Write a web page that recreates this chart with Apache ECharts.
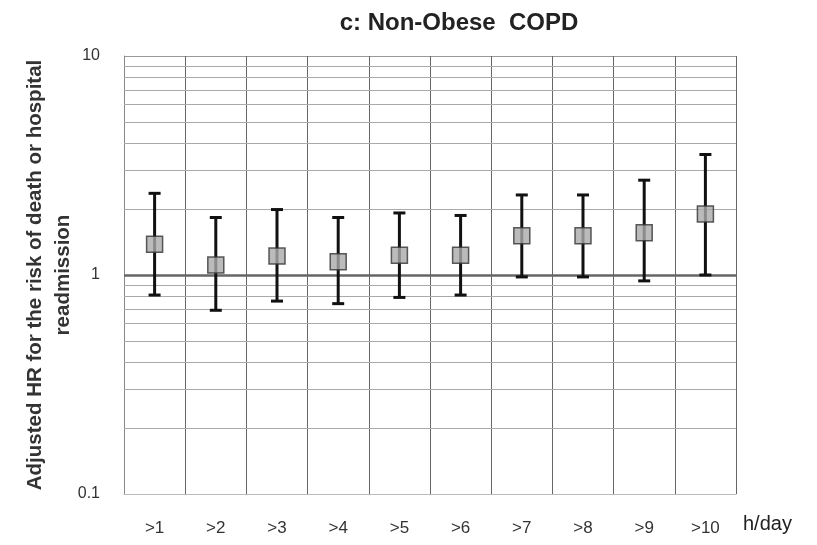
<!DOCTYPE html>
<html>
<head>
<meta charset="utf-8">
<script src="https://cdn.jsdelivr.net/npm/echarts@6/dist/echarts.min.js"></script>
<style>
html,body{margin:0;padding:0;background:#fff;}
#c{width:817px;height:545px;}
</style>
</head>
<body>
<div id="c"></div>
<script>
var categories = ['>1', '>2', '>3', '>4', '>5', '>6', '>7', '>8', '>9', '>10'];
var hr    = [1.38, 1.11, 1.22, 1.15, 1.23, 1.23, 1.51, 1.51, 1.56, 1.90];
var lower = [0.81, 0.69, 0.76, 0.74, 0.79, 0.81, 0.98, 0.98, 0.94, 1.00];
var upper = [2.36, 1.83, 1.99, 1.83, 1.92, 1.87, 2.32, 2.32, 2.71, 3.55];
var yTicks = [0.1, 1, 10];
var minorGrid = [0.2, 0.3, 0.4, 0.5, 0.6, 0.7, 0.8, 0.9, 2, 3, 4, 5, 6, 7, 8, 9];

var errData = categories.map(function (c, i) { return [i, lower[i], upper[i]]; });
var ptData = categories.map(function (c, i) { return [i, hr[i]]; });

var FONT = 'Liberation Sans, Arial, sans-serif';
var chart = echarts.init(document.getElementById('c'));
chart.setOption({
  animation: false,
  backgroundColor: '#fff',
  title: {
    text: 'c: Non-Obese  COPD',
    left: 454, top: 6, textAlign: 'center',
    textStyle: { fontFamily: FONT, fontSize: 24, fontWeight: 'bold', color: '#222' }
  },
  grid: { left: 124, right: 81, top: 56, bottom: 51 },
  xAxis: {
    type: 'category',
    data: categories,
    boundaryGap: true,
    name: 'h/day',
    nameLocation: 'end',
    nameGap: 7,
    nameTextStyle: { fontFamily: FONT, fontSize: 20, color: '#222', verticalAlign: 'top', padding: [20, 0, 0, 0] },
    axisLine: { show: true, lineStyle: { color: '#bbb', width: 1 } },
    axisTick: { show: false },
    axisLabel: { fontFamily: FONT, fontSize: 17, color: '#333', margin: 26 },
    splitLine: { show: true, lineStyle: { color: '#666', width: 1 } }
  },
  yAxis: {
    type: 'log',
    logBase: 10,
    min: 0.1, max: 10,
    name: 'Adjusted HR for the risk of death or hospital\nreadmission',
    nameLocation: 'middle',
    nameRotate: 90,
    nameGap: 47,
    nameMoveOverlap: false,
    nameTextStyle: { fontFamily: FONT, fontSize: 20.5, color: '#333', fontWeight: 'bold', lineHeight: 28 },
    axisLine: { show: true, lineStyle: { color: '#888', width: 1 } },
    axisTick: { show: false },
    axisLabel: {
      fontFamily: FONT, fontSize: 16, color: '#333', margin: 24,
      formatter: function (v) { return yTicks.indexOf(+v.toPrecision(3)) >= 0 ? String(+v.toPrecision(3)) : ''; }
    },
    splitLine: { show: true, lineStyle: { color: '#999', width: 1 } }
  },
  series: [
    {
      type: 'line',
      data: [],
      silent: true,
      markLine: {
        symbol: 'none',
        silent: true,
        label: { show: false },
        lineStyle: { color: '#aaa', width: 1, type: 'solid' },
        data: minorGrid.map(function (v) { return { yAxis: v }; })
      }
    },
    {
      type: 'line',
      data: [],
      silent: true,
      markLine: {
        symbol: 'none',
        silent: true,
        label: { show: false },
        lineStyle: { color: '#666', width: 2.5, type: 'solid' },
        data: [{ yAxis: 1 }]
      }
    },
    {
      type: 'custom',
      data: errData,
      z: 5,
      renderItem: function (params, api) {
        var x = api.value(0);
        var lo = api.coord([x, api.value(1)]);
        var hi = api.coord([x, api.value(2)]);
        var hw = 6;
        var st = { stroke: '#111', lineWidth: 3 };
        return {
          type: 'group',
          children: [
            { type: 'line', shape: { x1: lo[0], y1: lo[1], x2: hi[0], y2: hi[1] }, style: st },
            { type: 'line', shape: { x1: lo[0] - hw, y1: lo[1], x2: lo[0] + hw, y2: lo[1] }, style: st },
            { type: 'line', shape: { x1: hi[0] - hw, y1: hi[1], x2: hi[0] + hw, y2: hi[1] }, style: st }
          ]
        };
      }
    },
    {
      type: 'scatter',
      data: ptData,
      z: 10,
      symbol: 'rect',
      symbolSize: 16,
      itemStyle: { color: '#aaa', borderColor: '#333', borderWidth: 1.5 }
    }
  ]
});
</script>
</body>
</html>
